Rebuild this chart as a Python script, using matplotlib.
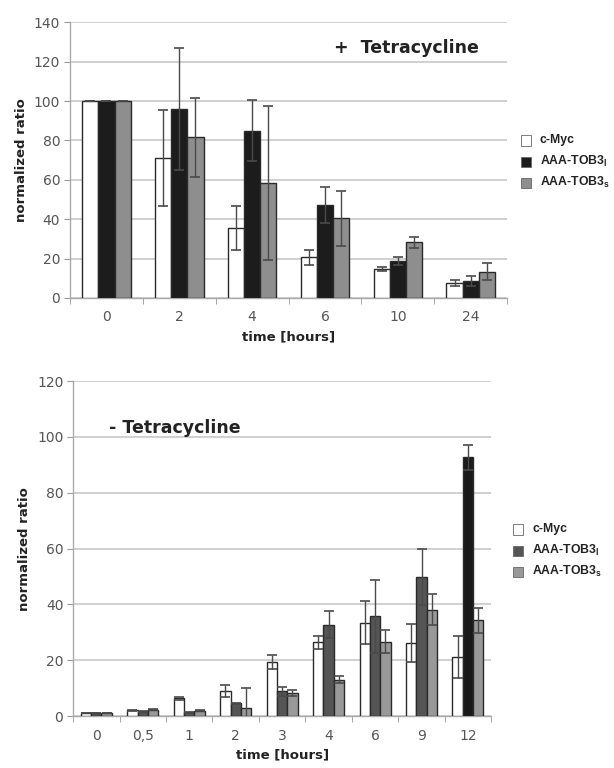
import matplotlib.pyplot as plt
import numpy as np

# + Tetracycline
times_plus = ['0', '2', '4', '6', '10', '24']
myc_plus = [100, 71, 35.5, 20.8, 14.7, 7.6]
myc_plus_err = [0, 24.5, 11, 3.8, 1, 1.6]
tobl_plus = [100, 96, 85, 47.2, 18.9, 8.6]
tobl_plus_err = [0, 31, 15.5, 9.3, 2.1, 2.6]
tobs_plus = [100, 81.5, 58.5, 40.5, 28.3, 13.4]
tobs_plus_err = [0, 20, 39, 14, 2.9, 4.3]

# - Tetracycline
times_minus = ['0', '0,5', '1', '2', '3', '4', '6', '9', '12']
myc_minus = [1.2, 2.1, 6.3, 9.0, 19.3, 26.4, 33.5, 26.1, 21.1]
myc_minus_err = [0, 0.2, 0.5, 2.1, 2.4, 2.4, 7.8, 6.8, 7.5]
tobl_minus = [0.9, 1.7, 1.4, 4.6, 8.8, 32.7, 35.7, 49.8, 92.7]
tobl_minus_err = [0, 0.2, 0.2, 0.2, 1.5, 4.8, 13, 10, 4.4]
tobs_minus = [1.0, 2.2, 1.9, 2.9, 8.2, 13.0, 26.7, 38.1, 34.3]
tobs_minus_err = [0, 0.2, 0.2, 7.2, 1.2, 1.3, 4.2, 5.6, 4.5]

fig = plt.figure(figsize=(6.14, 7.68), dpi=100)
tick_col = '#555555'
grid_col = '#c8c8c8'


def draw_panel(ax, cats, series, ymax, colors_list):
    x = np.arange(len(cats))
    w = 0.222
    for k, (vals, errs) in enumerate(series):
        ax.bar(x + (k - 1) * w, vals, w, color=colors_list[k], edgecolor='#2a2a2a',
               linewidth=1.0, zorder=3)
        ax.errorbar(x + (k - 1) * w, vals, yerr=errs, fmt='none', ecolor='#4a4a4a',
                    elinewidth=1.0, capsize=3.5, capthick=1.2, zorder=4)
    ax.set_xlim(-0.5, len(cats) - 0.5)
    ax.set_ylim(0, ymax)
    ax.set_yticks(np.arange(0, ymax + 1, 20))
    ax.set_xticks(x)
    ax.set_xticklabels(cats)
    ax.set_xticks(np.arange(-0.5, len(cats), 1), minor=True)
    ax.tick_params(axis='x', which='major', length=0, pad=9, labelsize=10, labelcolor=tick_col)
    ax.tick_params(axis='x', which='minor', length=4, color='#999999', direction='out')
    ax.tick_params(axis='y', length=4, color='#999999', labelsize=10, labelcolor=tick_col, pad=3)
    ax.yaxis.grid(True, color=grid_col, linewidth=1.2, zorder=0)
    for s in ['top', 'right']:
        ax.spines[s].set_visible(False)
    ax.spines['left'].set_color('#aaaaaa')
    ax.spines['bottom'].set_color('#aaaaaa')
    ax.spines['left'].set_linewidth(1.0)
    ax.spines['bottom'].set_linewidth(1.0)
    ax.set_xlabel('time [hours]', fontsize=9.5, fontweight='bold', color='#222222', labelpad=4)
    ax.set_ylabel('normalized ratio', fontsize=9.5, fontweight='bold', color='#222222')


def draw_legend(fig, x0, y0, colors_list):
    labels = ['c-Myc', 'AAA-TOB3$_\\mathregular{l}$', 'AAA-TOB3$_\\mathregular{s}$']
    for k, lab in enumerate(labels):
        yy = y0 - k * 0.0275
        fig.patches.append(plt.Rectangle((x0, yy - 0.0075), 0.0165, 0.0135,
                                         transform=fig.transFigure, facecolor=colors_list[k],
                                         edgecolor='#666666', linewidth=0.6))
        fig.text(x0 + 0.031, yy, lab, fontsize=8.8, fontweight='bold', family='Liberation Sans',
                 va='center', color='#222222')


# top panel
ax1 = fig.add_axes([0.114, 0.612, 0.712, 0.359])
draw_panel(ax1, times_plus,
           [(myc_plus, myc_plus_err), (tobl_plus, tobl_plus_err), (tobs_plus, tobs_plus_err)],
           140, ['white', '#1c1c1c', '#8e8e8e'])
ax1.text(0.77, 0.905, '+  Tetracycline', transform=ax1.transAxes, fontsize=12.5,
         fontweight='bold', ha='center', va='center', color='#222222')
draw_legend(fig, 0.848, 1 - 140 / 768, ['white', '#1c1c1c', '#8e8e8e'])

# bottom panel
ax2 = fig.add_axes([0.119, 0.0677, 0.681, 0.436])
draw_panel(ax2, times_minus,
           [(myc_minus, myc_minus_err), (tobl_minus, tobl_minus_err), (tobs_minus, tobs_minus_err)],
           120, ['white', '#555555', '#999999'])
# the 12 h bar of AAA-TOB3l is drawn black in the original
ax2.patches[len(times_minus) * 2 - 1].set_facecolor('#1a1a1a')
ax2.text(0.085, 0.86, '- Tetracycline', transform=ax2.transAxes, fontsize=12.5,
         fontweight='bold', ha='left', va='center', color='#222222')
draw_legend(fig, 0.836, 1 - 529 / 768, ['white', '#555555', '#999999'])

fig.savefig('out.png', dpi=100)
